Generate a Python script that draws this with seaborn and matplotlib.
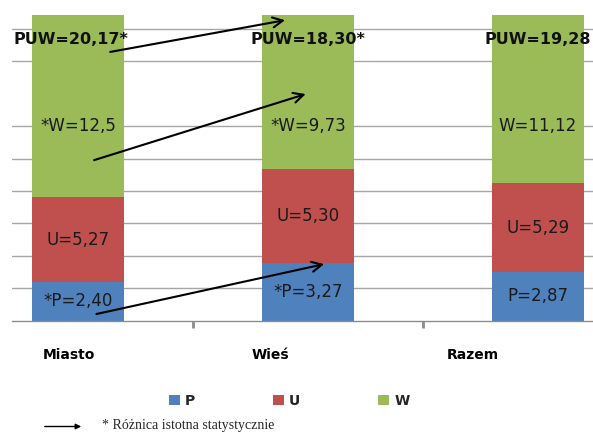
import matplotlib
matplotlib.use("Agg")
import matplotlib.pyplot as plt
import matplotlib.transforms as mtransforms
from matplotlib.patches import Patch
import numpy as np
import pandas as pd
import seaborn as sns

sns.set_theme(style="white")
plt.rcParams["font.family"] = ["DejaVu Sans"]

# --- dane ---
groups = ["Miasto", "Wieś", "Razem"]
P = [2.40, 3.27, 2.87]
U = [5.27, 5.30, 5.29]
W = [12.5, 9.73, 11.12]
puw_txt = ["PUW=20,17*", "PUW=18,30*", "PUW=19,28"]
p_txt = ["*P=2,40", "*P=3,27", "P=2,87"]
u_txt = ["U=5,27", "U=5,30", "U=5,29"]
w_txt = ["*W=12,5", "*W=9,73", "W=11,12"]
# strzałki (x, y%) -> (x, y%)
arrows = [((0.14, 82.9), (0.90, 92.7)),
          ((0.07, 49.5), (0.99, 69.9)),
          ((0.08, 2.0), (1.07, 17.4))]

COL = {"P": "#4F81BD", "U": "#C0504D", "W": "#9BBB59"}

df = pd.DataFrame({"grupa": groups, "P": P, "U": U, "W": W})
tot = df[["P", "U", "W"]].sum(axis=1)
df["P_pct"] = df["P"] / tot * 100
df["PU_pct"] = (df["P"] + df["U"]) / tot * 100
df["PUW_pct"] = 100.0

fig = plt.figure(figsize=(5.93, 4.33), dpi=100)
ax = fig.add_axes([12 / 593, (433 - 320.5) / 433, 581 / 593, 305.5 / 433])

for col, c in [("PUW_pct", COL["W"]), ("PU_pct", COL["U"]), ("P_pct", COL["P"])]:
    sns.barplot(data=df, x="grupa", y=col, color=c, width=0.4, saturation=1,
                edgecolor="none", linewidth=0, ax=ax, zorder=2)

ax.set_xlim(-0.287, 2.239)
ax.set_ylim(0, 94.3)
for g in [10, 20, 30, 40, 50, 60, 80, 90]:
    ax.axhline(g, color="#a6a6a6", lw=1, zorder=1)

for s in ["top", "right", "left"]:
    ax.spines[s].set_visible(False)
ax.spines["bottom"].set_color("#8c8c8c")
ax.spines["bottom"].set_linewidth(1)
ax.set_yticks([])
ax.set_xlabel("")
ax.set_ylabel("")
ax.set_xticks([0.5, 1.5], minor=True)
ax.tick_params(axis="x", which="major", length=0, pad=20)
ax.tick_params(axis="x", which="minor", length=5, width=2, color="#8c8c8c",
               direction="out", bottom=True)
ax.set_xticks(range(3))
ax.set_xticklabels(groups, fontsize=10, fontweight="heavy", color="#000000")
shifts = [-9, -38, -65]
for lab, dx in zip(ax.get_xticklabels(), shifts):
    lab.set_transform(lab.get_transform() +
                      mtransforms.ScaledTranslation(dx / 100, 0, fig.dpi_scale_trans))

txt_kw = dict(ha="center", va="center", fontsize=12, color="#1a1a1a", zorder=4)
for i in range(3):
    ax.text(i, df["P_pct"][i] / 2, p_txt[i], **txt_kw)
    ax.text(i, (df["P_pct"][i] + df["PU_pct"][i]) / 2, u_txt[i], **txt_kw)
    ax.text(i, 60, w_txt[i], **txt_kw)
    ax.text(i - (0.03 if i == 0 else 0), 86.7, puw_txt[i], ha="center", va="center",
            fontsize=11.5, fontweight="bold", color="#111111", zorder=4)

for (x0, y0), (x1, y1) in arrows:
    ax.annotate("", xy=(x1, y1), xytext=(x0, y0),
                arrowprops=dict(arrowstyle="->", lw=1.5, color="black",
                                mutation_scale=18, shrinkA=0, shrinkB=0),
                zorder=5, annotation_clip=False)

handles = [Patch(facecolor=COL[k], edgecolor="none", label=k) for k in ["P", "U", "W"]]
leg = fig.legend(handles=handles, loc="center", bbox_to_anchor=(289 / 593, 1 - 401 / 433),
                 ncol=3, frameon=False, handlelength=0.8, handleheight=0.8,
                 handletextpad=0.4, columnspacing=5.55,
                 prop={"weight": "bold", "size": 10})

fig.add_artist(matplotlib.patches.FancyArrowPatch(
    (42 / 593, 1 - 426.5 / 433), (84 / 593, 1 - 426.5 / 433),
    transform=fig.transFigure, arrowstyle="-|>", mutation_scale=8,
    lw=1, color="black"))
fig.text(102 / 593, 1 - 425 / 433, "* Różnica istotna statystycznie",
         family="Liberation Serif", fontsize=10, va="center", ha="left")

fig.savefig("out.png", dpi=100)
